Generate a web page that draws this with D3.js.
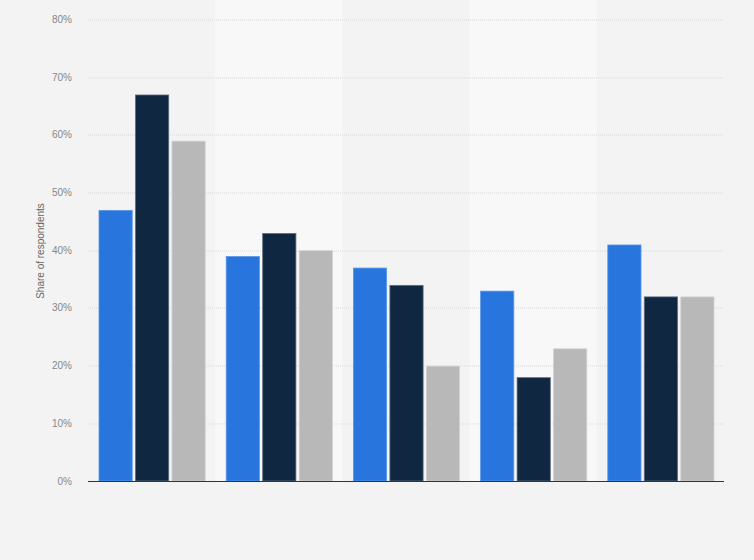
<!DOCTYPE html>
<html>
<head>
<meta charset="utf-8">
<script src="https://cdn.jsdelivr.net/npm/d3@7"></script>
<style>
  body { margin: 0; background: #f3f3f3; }
  svg { display: block; font-family: "Liberation Sans", Arial, sans-serif; }
</style>
</head>
<body>
<div id="chart"></div>
<script>
// Categories have no visible labels in the reference
const categories = ["A", "B", "C", "D", "E"];
const seriesNames = ["Series 1", "Series 2", "Series 3"];
const series1 = [47, 39, 37, 33, 41];
const series2 = [67, 43, 34, 18, 32];
const series3 = [59, 40, 20, 23, 32];
const yTicks = [0, 10, 20, 30, 40, 50, 60, 70, 80];
const colors = ["#2876dd", "#0f2741", "#b8b8b8"];
const strokes = ["#5a97ea", "#5d6b7e", "#d2d2d2"];

function drawChart() {
    const width = 754, height = 560;
    const margin = { top: 19.5, right: 30, bottom: 79, left: 88 };
    const innerW = width - margin.left - margin.right;
    const innerH = height - margin.top - margin.bottom;

    const svg = d3.select("#chart")
        .append("svg")
        .attr("width", width)
        .attr("height", height);

    svg.append("rect").attr("width", width).attr("height", height).attr("fill", "#f3f3f3");

    const g = svg.append("g")
        .attr("transform", `translate(${margin.left},${margin.top})`);

    const x0 = d3.scaleBand()
        .domain(categories)
        .range([0, innerW])
        .paddingInner(0)
        .paddingOuter(0);

    const x1 = d3.scaleBand()
        .domain(seriesNames)
        .range([11, x0.bandwidth() - 10])
        .paddingInner(0.09);

    const y = d3.scaleLinear()
        .domain([0, 80])
        .range([innerH, 0]);

    // Alternating light column bands
    g.append("g")
        .selectAll("rect")
        .data(categories.filter((d, i) => i % 2 === 1))
        .join("rect")
        .attr("x", d => x0(d))
        .attr("y", -margin.top)
        .attr("width", x0.bandwidth())
        .attr("height", innerH + margin.top)
        .attr("fill", "#f8f8f8");

    // Gridlines
    g.append("g")
        .selectAll("line")
        .data(yTicks.filter(d => d > 0))
        .join("line")
        .attr("x1", 0)
        .attr("x2", innerW)
        .attr("y1", d => Math.round(y(d)) + 0.5)
        .attr("y2", d => Math.round(y(d)) + 0.5)
        .attr("stroke", "#d9d9d9")
        .attr("stroke-width", 1)
        .attr("stroke-dasharray", "1,1");

    // Y axis labels
    g.append("g")
        .selectAll("text")
        .data(yTicks)
        .join("text")
        .attr("x", -16)
        .attr("y", d => y(d))
        .attr("dy", "0.35em")
        .attr("text-anchor", "end")
        .attr("font-size", 10)
        .attr("fill", "#888")
        .text(d => d + "%");

    // Grouped bars
    const rows = categories.map((c, i) => ({ c, vals: [series1[i], series2[i], series3[i]] }));
    g.append("g")
        .selectAll("g")
        .data(rows)
        .join("g")
        .attr("transform", d => `translate(${x0(d.c)},0)`)
        .selectAll("rect")
        .data(d => d.vals.map((v, k) => ({ key: seriesNames[k], k, v })))
        .join("rect")
        .attr("x", d => x1(d.key))
        .attr("y", d => y(d.v) + 0.5)
        .attr("width", x1.bandwidth())
        .attr("height", d => innerH - y(d.v) - 0.5)
        .attr("fill", d => colors[d.k])
        .attr("stroke", d => strokes[d.k])
        .attr("stroke-width", 0.8);

    // Baseline
    g.append("line")
        .attr("x1", 0)
        .attr("x2", innerW)
        .attr("y1", innerH + 0.5)
        .attr("y2", innerH + 0.5)
        .attr("stroke", "#333")
        .attr("stroke-width", 1.2);

    // Y axis title
    svg.append("text")
        .attr("transform", "rotate(-90)")
        .attr("x", -251)
        .attr("y", 40)
        .attr("dy", "0.35em")
        .attr("text-anchor", "middle")
        .attr("font-size", 10)
        .attr("fill", "#666")
        .text("Share of respondents");
}

drawChart();
</script>
</body>
</html>
